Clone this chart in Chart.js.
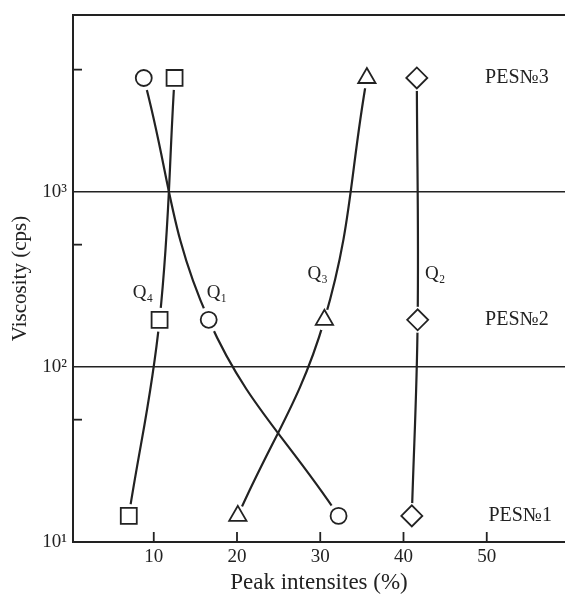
<!DOCTYPE html>
<html><head><meta charset="utf-8">
<script src="https://cdn.jsdelivr.net/npm/chart.js@4/dist/chart.umd.min.js"></script>
<style>html,body{margin:0;padding:0;background:#fff}#wrap{width:565px;height:594px}</style>
</head><body><div id="wrap"><canvas id="c" width="565" height="594"></canvas></div>
<script>
// ---- data ----
const viscosity = [4480, 186, 14.1];           // PES No3, No2, No1 (cps)
const q1Intensity = [8.8, 16.6, 32.2];         // circles
const q2Intensity = [41.6, 41.7, 41.0];        // diamonds
const q3Intensity = [35.6, 30.5, 20.1];        // triangles
const q4Intensity = [12.5, 10.7, 7.0];         // squares
const xTickValues = [10, 20, 30, 40, 50];
const yTickValues = [10, 100, 1000];
const yTickLabels = ['10¹', '10²', '10³'];
const yMinorTicks = [50, 500, 5000];
const sampleLabels = ['PES№3', 'PES№2', 'PES№1'];
const sampleLabelX = [49.8, 49.8, 50.2];
const seriesNames = ['Q₁', 'Q₂', 'Q₃', 'Q₄'];
const seriesLabelX = [17.6, 43.8, 29.7, 8.7];
const seriesLabelY = [265, 340, 340, 265];

const INK = '#222';
const FONT = "'Liberation Serif', 'DejaVu Serif', serif";

const series = [
  {vals: q1Intensity, style: 'circle', r: 8, halo: 12.5},
  {vals: q2Intensity, style: 'rectRot', r: 10.5, halo: 13},
  {vals: q3Intensity, style: 'triangle', r: 10, halo: 10.5},
  {vals: q4Intensity, style: 'rect', r: 11.3, halo: 12}
];

const datasets = [];
series.forEach(s => {
  const pts = s.vals.map((x, i) => ({x: x, y: viscosity[i]}));
  datasets.push({data: pts, showLine: true, tension: 0.4, borderColor: INK, borderWidth: 2.2,
    pointRadius: 0, pointHoverRadius: 0, order: 3});
  datasets.push({data: pts, showLine: false, pointStyle: 'circle', pointRadius: s.halo,
    pointBackgroundColor: '#fff', pointBorderWidth: 0, pointBorderColor: 'rgba(0,0,0,0)', order: 2});
  datasets.push({data: pts, showLine: false, pointStyle: s.style, pointRadius: s.r,
    pointBackgroundColor: '#fff', pointBorderColor: INK, pointBorderWidth: 1.8, order: 1});
});

const decor = {
  id: 'decor',
  afterDraw(chart) {
    const {ctx, chartArea: a, scales: {x, y}} = chart;
    ctx.save();
    ctx.strokeStyle = INK;
    // top frame line
    ctx.lineWidth = 2;
    ctx.beginPath(); ctx.moveTo(a.left, a.top); ctx.lineTo(a.right, a.top); ctx.stroke();
    // inward x ticks
    ctx.lineWidth = 1.8;
    xTickValues.forEach(v => {
      const px = x.getPixelForValue(v);
      ctx.beginPath(); ctx.moveTo(px, a.bottom); ctx.lineTo(px, a.bottom - 10); ctx.stroke();
    });
    // inward minor y ticks
    yMinorTicks.forEach(v => {
      const py = y.getPixelForValue(v);
      ctx.beginPath(); ctx.moveTo(a.left, py); ctx.lineTo(a.left + 9, py); ctx.stroke();
    });
    // sample labels
    ctx.fillStyle = INK;
    ctx.textBaseline = 'middle';
    ctx.textAlign = 'left';
    ctx.font = '20px ' + FONT;
    sampleLabels.forEach((t, i) => {
      ctx.fillText(t, x.getPixelForValue(sampleLabelX[i]), y.getPixelForValue(viscosity[i]));
    });
    // series labels
    ctx.textAlign = 'center';
    ctx.font = '19px ' + FONT;
    seriesNames.forEach((t, i) => {
      ctx.fillText(t, x.getPixelForValue(seriesLabelX[i]), y.getPixelForValue(seriesLabelY[i]));
    });
    ctx.restore();
  }
};

new Chart(document.getElementById('c'), {
  type: 'scatter',
  data: {datasets},
  options: {
    responsive: false,
    animation: false,
    devicePixelRatio: 1,
    layout: {autoPadding: false, padding: {left: 0, right: 0, top: 15, bottom: 0}},
    plugins: {legend: {display: false}, tooltip: {enabled: false}},
    scales: {
      x: {
        type: 'linear', min: 0.3, max: 59.4,
        afterBuildTicks: s => { s.ticks = xTickValues.map(v => ({value: v})); },
        afterFit: s => { s.height = 52; s.paddingLeft = 0; s.paddingRight = 0; },
        ticks: {color: INK, font: {family: FONT, size: 19}, padding: 4, autoSkip: false, maxRotation: 0},
        grid: {display: false, drawTicks: false},
        border: {display: true, color: INK, width: 2},
        title: {display: true, text: 'Peak intensites (%)', color: INK,
          font: {family: FONT, size: 23, lineHeight: 1}, padding: {top: 0, bottom: 0}}
      },
      y: {
        type: 'logarithmic', min: 10, max: 10260,
        afterBuildTicks: s => { s.ticks = yTickValues.map(v => ({value: v})); },
        afterFit: s => { s.width = 73; s.paddingTop = 0; s.paddingBottom = 0; },
        ticks: {color: INK, font: {family: FONT, size: 19}, padding: 6, autoSkip: false,
          callback: v => { const i = yTickValues.indexOf(v); return i >= 0 ? yTickLabels[i] : ''; }},
        grid: {drawTicks: false, lineWidth: 1.6,
          color: c => (c.tick && (c.tick.value === 100 || c.tick.value === 1000)) ? '#222' : 'rgba(0,0,0,0)'},
        border: {display: true, color: INK, width: 2},
        title: {display: true, text: 'Viscosity (cps)', color: INK,
          font: {family: FONT, size: 21, lineHeight: 1}, padding: {top: 10, bottom: 0}}
      }
    }
  },
  plugins: [decor]
});
</script>
</body></html>
